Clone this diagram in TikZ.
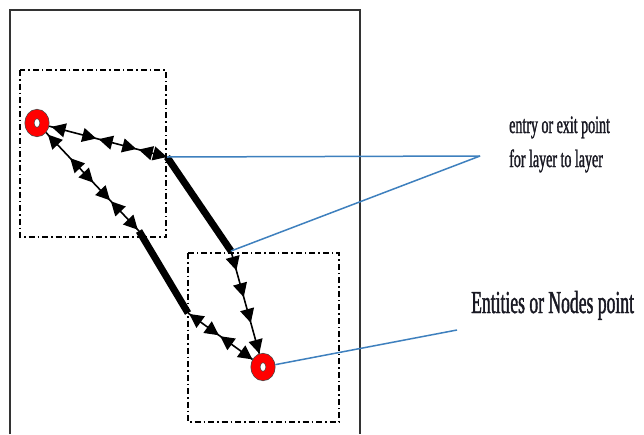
\documentclass[tikz,border=0pt]{standalone}
\usepackage{fontspec}
\newfontfamily\condfont[FakeStretch=0.56,FakeBold=1.2]{Liberation Serif}
\newfontfamily\condbigfont[FakeStretch=0.55,FakeBold=1.2]{Liberation Serif}
\usetikzlibrary{arrows.meta,decorations.markings,shapes.geometric}
\definecolor{linkblue}{RGB}{62,128,190}
\definecolor{txtdark}{RGB}{25,25,35}
\tikzset{
  >={Triangle[length=14pt,width=14pt]},
  frame/.style={draw=black!80,line width=1.2pt},
  zone/.style={draw=black,line width=1.6pt,dash pattern=on 6pt off 3pt on 1.5pt off 3pt},
  pnt/.style={ellipse,minimum width=15pt,minimum height=18pt,inner sep=0pt,
    fill=white,draw=black!70,line width=0.7pt,double=red,double distance=8.5pt,outer sep=5pt},
  thinlink/.style={draw=black,line width=1.6pt,postaction={decorate},decoration={markings,#1}},
  thicklink/.style={draw=black,line width=7pt},
  bluelink/.style={draw=linkblue,line width=1.5pt},
  lbl/.style={inner sep=0pt,text=txtdark}
}
\begin{document}
\begin{tikzpicture}[x=1pt,y=-1pt]
\useasboundingbox[fill=white] (0,0) rectangle (644,434);
% outer frame
\draw[frame] (10,434) -- (10,10) -- (360,10) -- (360,434);
% zones
\draw[zone] (20,70) rectangle (166,237);
\draw[zone] (188,253) rectangle (339,422);
% points
\node[pnt] (L) at (37,123) {};
\node[pnt] (R) at (263,367) {};
\coordinate (A) at (167,157);
\coordinate (B) at (231,251);
\coordinate (C) at (139,231);
\coordinate (D) at (188,313);
% thick layer-to-layer links
\draw[thicklink] (A) -- (B);
\draw[thicklink] (C) -- (D);
% thin links with arrow markers
\draw[thinlink={mark=at position 0.02 with {\arrowreversed{>}},
  mark=at position 0.40 with {\arrow{>}},
  mark=at position 0.42 with {\arrowreversed{>}},
  mark=at position 0.74 with {\arrow{>}},
  mark=at position 0.76 with {\arrowreversed{>}},
  mark=at position 1 with {\arrow{>}}}] (L) -- (A);
\draw[thinlink={mark=at position 0.02 with {\arrowreversed{>}},
  mark=at position 0.26 with {\arrowreversed{>}},
  mark=at position 0.51 with {\arrow{>}},
  mark=at position 0.69 with {\arrow{>}},
  mark=at position 0.70 with {\arrowreversed{>}},
  mark=at position 0.99 with {\arrow{>}}}] (L) -- (C);
\draw[thinlink={mark=at position 0.19 with {\arrow{>}},
  mark=at position 0.45 with {\arrow{>}},
  mark=at position 0.7 with {\arrow{>}},
  mark=at position 1 with {\arrow{>}}}] (B) -- (R);
\draw[thinlink={mark=at position 0.02 with {\arrowreversed{>}},
  mark=at position 0.48 with {\arrow{>}},
  mark=at position 0.50 with {\arrowreversed{>}},
  mark=at position 1 with {\arrow{>}}}] (D) -- (R);
% callouts
\coordinate (M) at (480,156);
\coordinate (E) at (457,330);
\draw[bluelink] (A) -- (M);
\draw[bluelink] (B) -- (M);
\draw[bluelink] (R) -- (E);
\node[lbl,anchor=base west,font=\condfont\fontsize{25}{28}\selectfont] (t1) at (509,133) {entry or exit point};
\node[lbl,anchor=base west,font=\condfont\fontsize{25}{28}\selectfont] (t2) at (509,167) {for layer to layer};
\node[lbl,anchor=base west,font=\condbigfont\fontsize{32}{36}\selectfont] (t3) at (471,313) {Entities or Nodes point};
\end{tikzpicture}
\end{document}
